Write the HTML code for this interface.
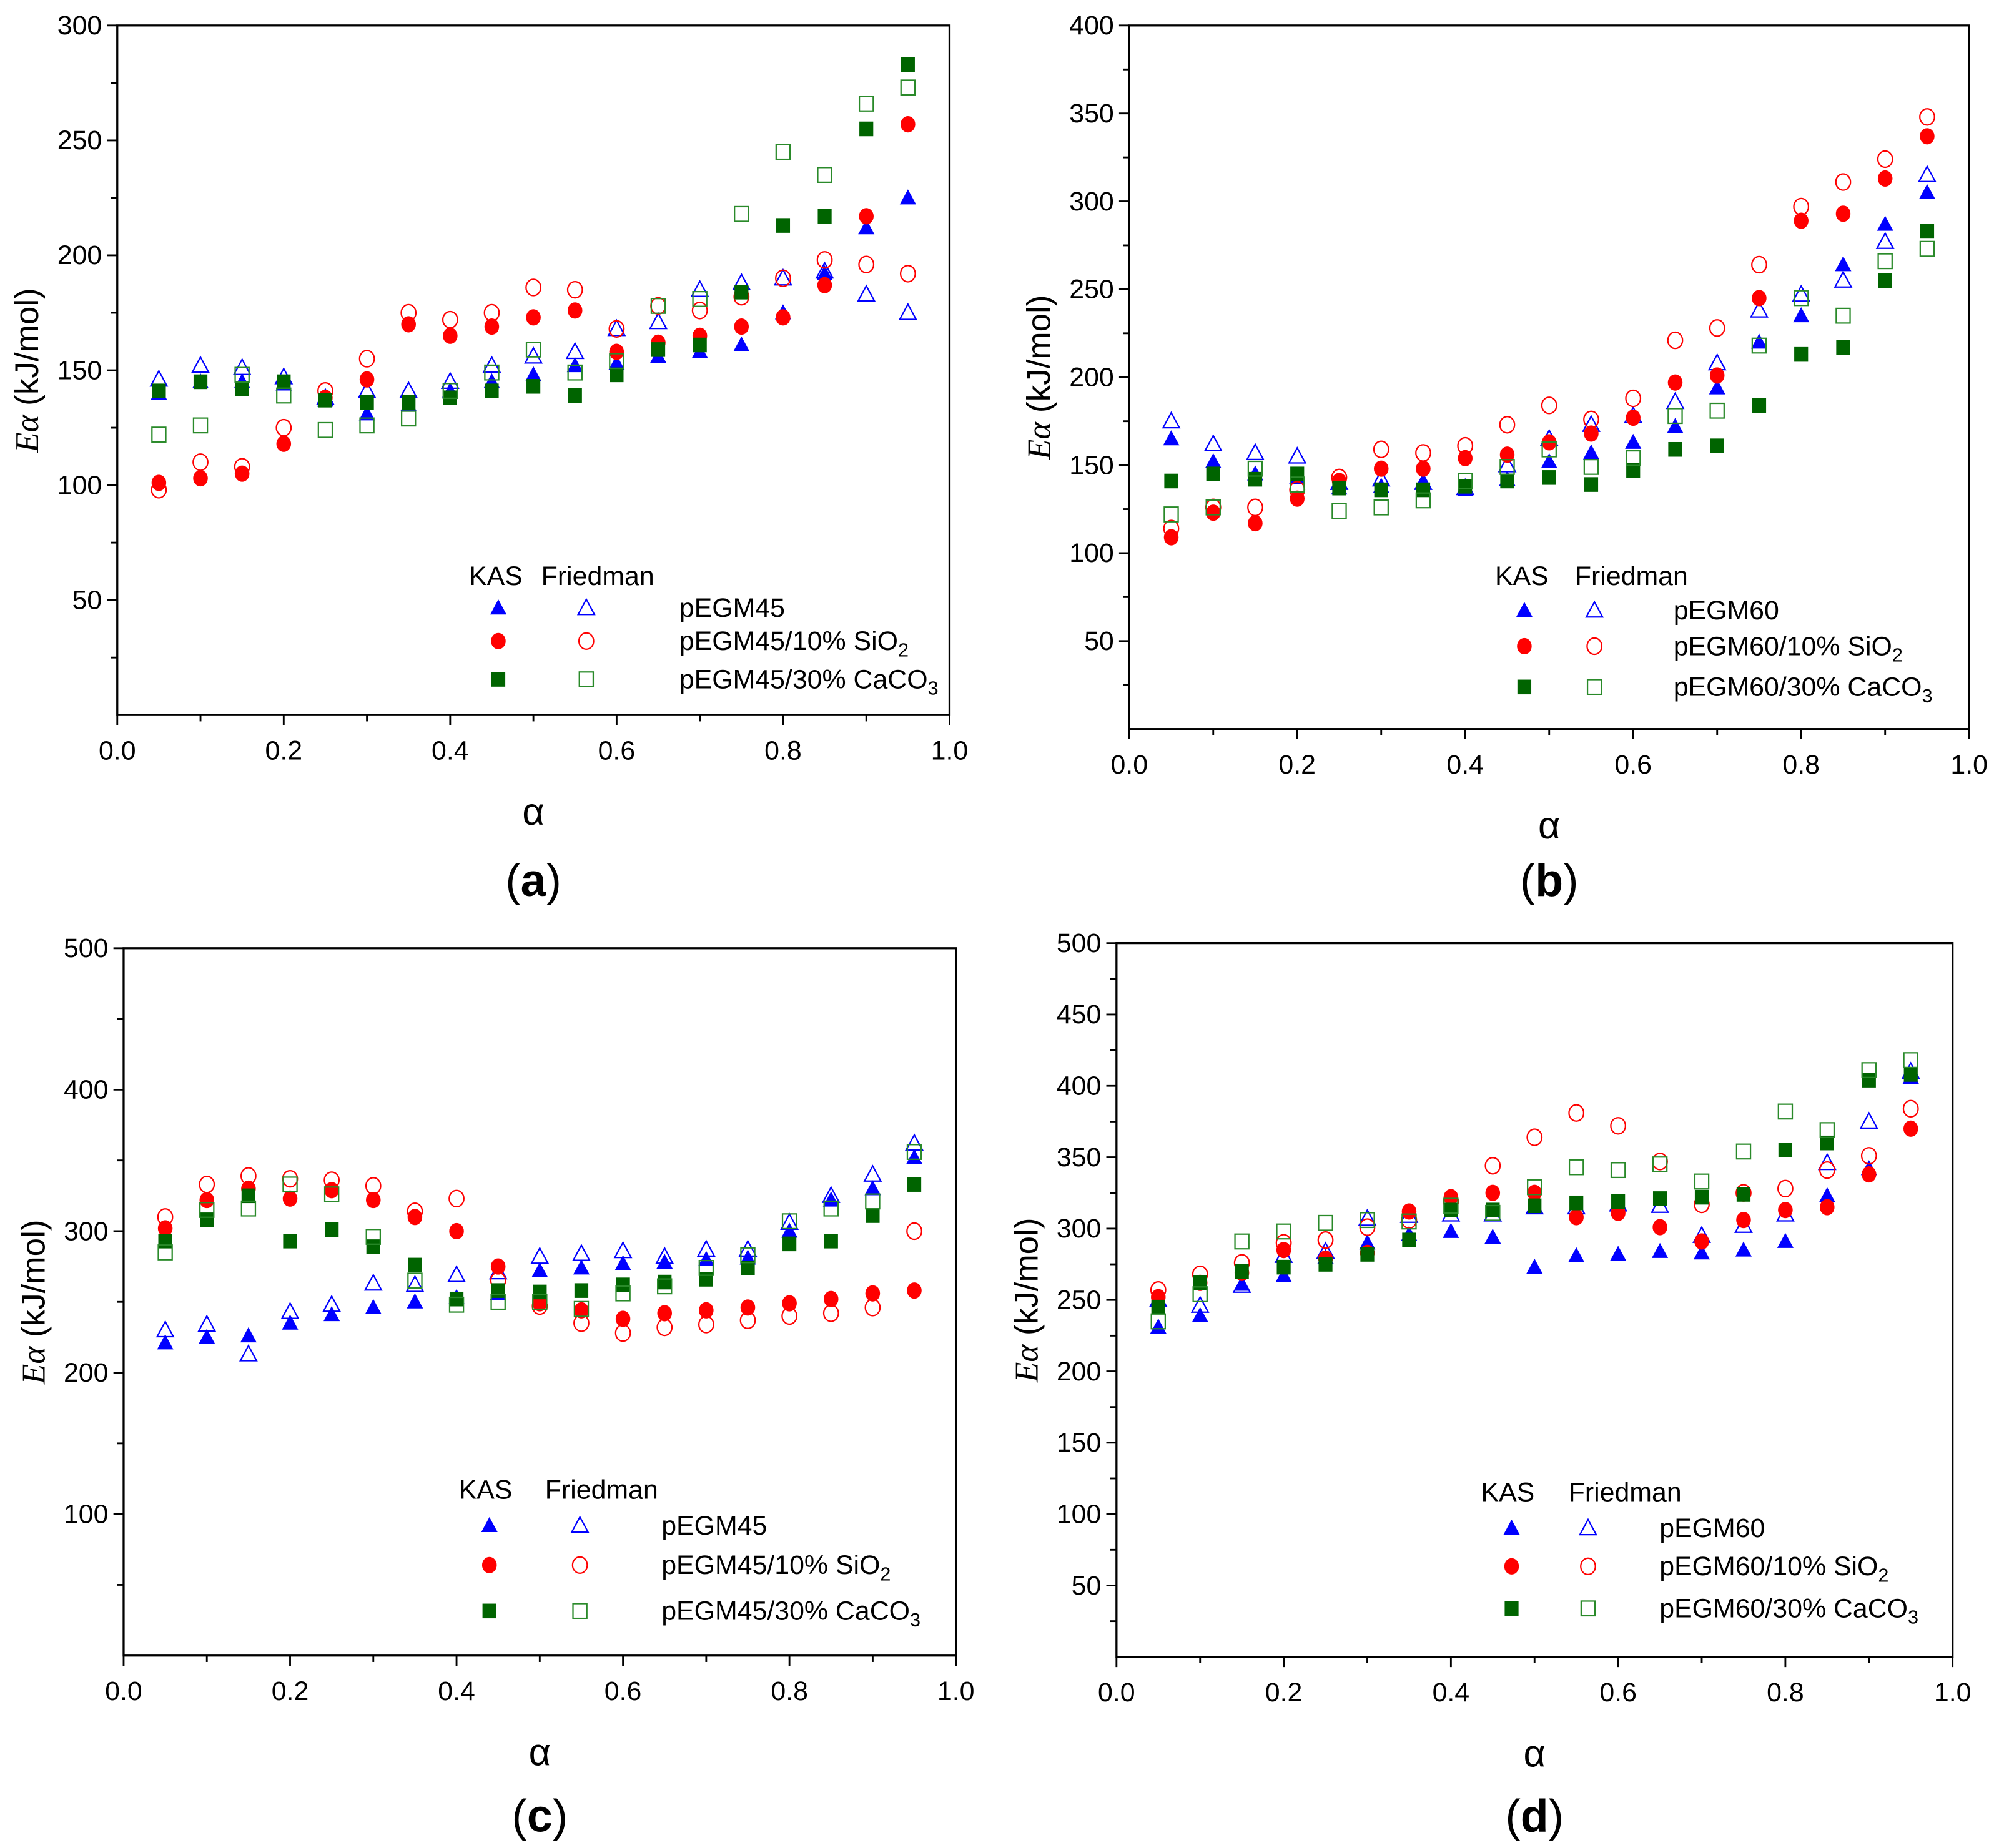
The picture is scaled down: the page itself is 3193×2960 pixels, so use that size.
<!DOCTYPE html>
<html><head><meta charset="utf-8"><style>
html,body{margin:0;padding:0;background:#fff;}
svg{display:block;}
text{font-family:"Liberation Sans",sans-serif;fill:#000;}
</style></head><body>
<svg id="fig" width="3193" height="2960" viewBox="0 0 1564.5 1450" preserveAspectRatio="none" xmlns="http://www.w3.org/2000/svg"></svg>
<script>
const alphaValues=[0.05,0.1,0.15,0.2,0.25,0.3,0.35,0.4,0.45,0.5,0.55,0.6,0.65,0.7,0.75,0.8,0.85,0.9,0.95];
const xTicks=[0,0.2,0.4,0.6,0.8,1.0];
const xTickLabels=["0.0","0.2","0.4","0.6","0.8","1.0"];
const seriesNames=["KAS","Friedman"];

// panel a
const aKasPlain=[140,145,145,144,137,131,135,141,145,148,152,153,156,158,161,175,192,212,225];
const aFriPlain=[146,152,151,147,138,141,141,145,152,156,158,168,171,185,188,190,193,183,175];
const aKasSi=[101,103,105,118,138,146,170,165,169,173,176,158,162,165,169,173,187,217,257];
const aFriSi=[98,110,108,125,141,155,175,172,175,186,185,168,178,176,182,190,198,196,192];
const aKasCa=[141,145,142,145,137,136,136,138,141,143,139,148,159,161,184,213,217,255,283];
const aFriCa=[122,126,148,139,124,126,129,141,149,159,149,154,178,181,218,245,235,266,273];
const aYTicks=[50,100,150,200,250,300];
// panel b
const bKasPlain=[165,152,145,143,137,138,140,136,142,152,157,163,172,194,220,235,264,287,305];
const bFriPlain=[175,162,157,155,140,142,140,137,150,165,173,178,186,208,238,247,255,277,315];
const bKasSi=[109,123,117,131,141,148,148,154,156,163,168,177,197,201,245,289,293,313,337];
const bFriSi=[114,126,126,136,143,159,157,161,173,184,176,188,221,228,264,297,311,324,348];
const bKasCa=[141,145,142,145,137,136,136,138,141,143,139,147,159,161,184,213,217,255,283];
const bFriCa=[122,126,148,139,124,126,130,141,149,159,149,154,178,181,218,245,235,266,273];
const bYTicks=[50,100,150,200,250,300,350,400];
// panel c
const cKasPlain=[221,225,226,235,241,246,250,253,256,272,274,277,278,280,281,300,322,330,352];
const cFriPlain=[230,234,213,243,248,263,262,269,271,282,284,286,282,287,287,306,325,340,362];
const cKasSi=[302,322,330,323,329,322,310,300,275,249,244,238,242,244,246,249,252,256,258];
const cFriSi=[310,333,339,337,336,332,314,323,265,247,235,228,232,234,237,240,242,246,300];
const cKasCa=[293,308,325,293,301,289,276,252,258,257,258,262,264,266,274,291,293,311,333];
const cFriCa=[285,315,316,333,326,296,265,248,250,250,245,256,261,274,283,307,316,321,356];
const cYTicks=[100,200,300,400,500];
// panel d
const dKasPlain=[231,239,261,267,280,290,296,298,294,273,281,282,284,283,285,291,323,342,406];
const dFriPlain=[250,246,260,281,284,307,309,310,310,315,315,317,316,295,302,310,346,375,410];
const dKasSi=[252,262,269,285,279,283,312,322,325,325,308,311,301,291,306,313,315,338,370];
const dFriSi=[257,268,276,290,292,301,306,319,344,364,381,372,347,317,325,328,341,351,384];
const dKasCa=[245,262,270,273,275,282,292,313,313,316,318,319,321,322,324,355,360,404,408];
const dFriCa=[235,254,291,298,304,306,305,316,311,329,343,341,345,333,354,382,369,411,418];
const dYTicks=[50,100,150,200,250,300,350,400,450,500];

const NS="http://www.w3.org/2000/svg";
const svg=document.getElementById('fig');
function mk(tag,attrs,parent,txt){const e=document.createElementNS(NS,tag);for(const k in attrs)e.setAttribute(k,attrs[k]);if(txt!==undefined)e.textContent=txt;(parent||svg).appendChild(e);return e;}

const BLUE="#0000ff",RED="#ff0000",GREEN="#006400",GREEN2="#2a8a2a";
function marker(g,shape,filled,color,x,y){
  const s=6.4;let e;
  const fill=filled?color:"none";const sw=filled?0:1.1;
  if(shape==="tri"){e=mk('polygon',{points:`${x},${y-s*1.05} ${x-s},${y+s*0.8} ${x+s},${y+s*0.8}`,fill:fill,stroke:color,'stroke-width':sw},g);}
  else if(shape==="circ"){e=mk('ellipse',{cx:x,cy:y,rx:s*0.9,ry:s*1.0,fill:fill,stroke:color,'stroke-width':sw},g);}
  else{e=mk('rect',{x:x-s*0.85,y:y-s*0.9,width:s*1.7,height:s*1.8,fill:fill,stroke:color,'stroke-width':sw},g);}
  return e;
}

function panel(cfg){
  const g=mk('g',{});
  
  
  const X=v=>cfg.x0+(cfg.x1-cfg.x0)*v;
  const Y=v=>cfg.y0-(cfg.y0-cfg.yTop)*v/cfg.yMax;
  const fr=mk('rect',{x:cfg.x0,y:cfg.yTop,width:cfg.x1-cfg.x0,height:cfg.y0-cfg.yTop,fill:"none",stroke:"#000",'stroke-width':1.6},g);
  
  
  for(let v=0;v<=1.0001;v+=0.1){const maj=Math.round(v*10)%2===0;mk('line',{x1:X(v),x2:X(v),y1:cfg.y0,y2:cfg.y0+(maj?8:5),stroke:"#000",'stroke-width':1.4},g);}
  xTicks.forEach((v,i)=>{const t=mk('text',{x:X(v),y:cfg.y0+35,'font-size':21,'text-anchor':'middle'},g,xTickLabels[i]);
    
    });
  for(let v=cfg.minor;v<=cfg.yMax+0.001;v+=cfg.minor){const maj=cfg.yTicks.includes(v);mk('line',{x1:cfg.x0,x2:cfg.x0-(maj?8:5),y1:Y(v),y2:Y(v),stroke:"#000",'stroke-width':1.4},g);}
  cfg.yTicks.forEach(v=>{const t=mk('text',{x:cfg.x0-12,y:Y(v)+7,'font-size':21,'text-anchor':'end'},g,String(v));
    
    });
  const yt=mk('text',{transform:`translate(${cfg.x0-62},${(cfg.y0+cfg.yTop)/2}) rotate(-90)`,'font-size':26,'text-anchor':'middle'},g);
  
  
  mk('tspan',{'font-style':'italic','font-family':'"Liberation Serif",serif'},yt,'Eα');
  mk('tspan',{},yt,' (kJ/mol)');
  const xt=mk('text',{x:(cfg.x0+cfg.x1)/2,y:cfg.y0+86,'font-size':30,'text-anchor':'middle','font-family':'"Liberation Serif",serif'},g,'α');
  
  
  const pl=mk('text',{x:(cfg.x0+cfg.x1)/2,y:cfg.labelY,'font-size':36,'text-anchor':'middle','font-family':'"Liberation Serif",serif'},g);
  
  
  mk('tspan',{},pl,'(');mk('tspan',{'font-weight':'bold'},pl,cfg.id);mk('tspan',{},pl,')');
  const defs=[[cfg.kp,'tri',true,BLUE,'kas-'+cfg.base],[cfg.fp,'tri',false,BLUE,'friedman-'+cfg.base],
    [cfg.ks,'circ',true,RED,'kas-sio2'],[cfg.fs,'circ',false,RED,'friedman-sio2'],
    [cfg.kc,'sq',true,GREEN,'kas-caco3'],[cfg.fc,'sq',false,GREEN2,'friedman-caco3']];
  defs.forEach(d=>{const sg=mk('g',{},g);
    
    
    d[0].forEach((v,i)=>{const m=marker(sg,d[1],d[2],d[3],X(alphaValues[i]),Y(v));
      
      });});
  const L=cfg.leg;const lg=mk('g',{},g);
  
  
  mk('text',{x:L.kx,y:L.hy,'font-size':21,'text-anchor':'middle'},lg,seriesNames[0]);
  mk('text',{x:L.fx,y:L.hy,'font-size':21,'text-anchor':'middle'},lg,seriesNames[1]);
  const names=[cfg.name,cfg.name+'/10% SiO',cfg.name+'/30% CaCO'];const subs=['','2','3'];
  const shapes=[['tri',BLUE,BLUE],['circ',RED,RED],['sq',GREEN,GREEN2]];
  L.rows.forEach((ry,i)=>{
    marker(lg,shapes[i][0],true,shapes[i][1],L.mk,ry);
    marker(lg,shapes[i][0],false,shapes[i][2],L.mf,ry);
    const t=mk('text',{x:L.tx,y:ry+7,'font-size':21},lg,names[i]);
    
    
    if(subs[i])mk('tspan',{'font-size':15,dy:5},t,subs[i]);
  });
}

panel({id:'a',name:'pEGM45',base:'pegm45',x0:92,x1:745,yTop:20,y0:561,yMax:300,minor:25,yTicks:aYTicks,labelY:703,
  kp:aKasPlain,fp:aFriPlain,ks:aKasSi,fs:aFriSi,kc:aKasCa,fc:aFriCa,
  leg:{kx:389,fx:469,hy:459,mk:391,mf:460,tx:533,rows:[477,503,533]}});
panel({id:'b',name:'pEGM60',base:'pegm60',x0:886,x1:1545,yTop:20,y0:572,yMax:400,minor:25,yTicks:bYTicks,labelY:703,
  kp:bKasPlain,fp:bFriPlain,ks:bKasSi,fs:bFriSi,kc:bKasCa,fc:bFriCa,
  leg:{kx:1194,fx:1280,hy:459,mk:1196,mf:1251,tx:1313,rows:[479,507,539]}});
panel({id:'c',name:'pEGM45',base:'pegm45',x0:97,x1:750,yTop:744,y0:1299,yMax:500,minor:50,yTicks:cYTicks,labelY:1437,
  kp:cKasPlain,fp:cFriPlain,ks:cKasSi,fs:cFriSi,kc:cKasCa,fc:cFriCa,
  leg:{kx:381,fx:472,hy:1176,mk:384,mf:455,tx:519,rows:[1197,1228,1264]}});
panel({id:'d',name:'pEGM60',base:'pegm60',x0:876,x1:1532,yTop:740,y0:1300,yMax:500,minor:25,yTicks:dYTicks,labelY:1437,
  kp:dKasPlain,fp:dFriPlain,ks:dKasSi,fs:dFriSi,kc:dKasCa,fc:dFriCa,
  leg:{kx:1183,fx:1275,hy:1178,mk:1186,mf:1246,tx:1302,rows:[1199,1229,1262]}});
</script>
</body></html>
